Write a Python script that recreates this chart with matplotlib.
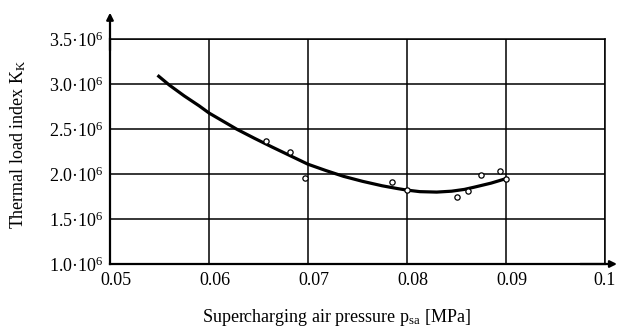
import matplotlib
matplotlib.use("Agg")
import matplotlib.pyplot as plt
import matplotlib.transforms as mtransforms

plt.rcParams['font.family'] = ['Liberation Serif', 'DejaVu Serif']
plt.rcParams['mathtext.fontset'] = 'custom'
plt.rcParams['mathtext.rm'] = 'Liberation Serif'
plt.rcParams['mathtext.it'] = 'Liberation Serif:italic'
plt.rcParams['mathtext.default'] = 'regular'

# measured points (pressure MPa, thermal load index in 1e6)
pts_x = [0.0658, 0.0682, 0.0697, 0.0785, 0.0800, 0.0850, 0.0862, 0.0875, 0.0894, 0.0900]
pts_y = [2.37, 2.25, 1.96, 1.91, 1.82, 1.74, 1.81, 1.99, 2.03, 1.95]

# fitted curve
curve_x = [0.0548, 0.0560, 0.0575, 0.0590, 0.0600, 0.0614, 0.0628, 0.0646, 0.0664, 0.0682,
           0.0700, 0.0718, 0.0736, 0.0755, 0.0775, 0.0790, 0.0800, 0.0813, 0.0830,
           0.0845, 0.0858, 0.0868, 0.0885, 0.0900]
curve_y = [3.10, 2.99, 2.87, 2.76, 2.68, 2.59, 2.50, 2.398, 2.300, 2.205,
           2.11, 2.04, 1.975, 1.92, 1.87, 1.84, 1.822, 1.805, 1.80,
           1.81, 1.83, 1.855, 1.90, 1.95]

x_ticks = [0.05, 0.06, 0.07, 0.08, 0.09, 0.1]
x_labels = ['0.05', '0.06', '0.07', '0.08', '0.09', '0.1']
y_ticks = [1.0, 1.5, 2.0, 2.5, 3.0, 3.5]
y_labels = ['1.0·10$^{6}$', '1.5·10$^{6}$', '2.0·10$^{6}$', '2.5·10$^{6}$',
            '3.0·10$^{6}$', '3.5·10$^{6}$']

fig = plt.figure(figsize=(6.17, 3.31), dpi=100)
fig.patch.set_facecolor('white')
ax = fig.add_axes([110/617, (331-264)/331, (605-110)/617, (264-39.3)/331])

scale = 1e6
ax.plot(curve_x, [v*scale for v in curve_y], color='black', lw=2.3,
        solid_capstyle='butt', solid_joinstyle='round', zorder=3)
ax.plot(pts_x, [v*scale for v in pts_y], linestyle='none', marker='o', ms=3.8,
        mfc='white', mec='black', mew=0.9, zorder=4)

ax.set_xlim(0.05, 0.1)
ax.set_ylim(1.0*scale, 3.5*scale)
ax.set_xticks(x_ticks)
ax.set_xticklabels(x_labels)
ax.set_yticks([v*scale for v in y_ticks])
ax.set_yticklabels(y_labels)
ax.tick_params(length=0, labelsize=13, colors='black')
ax.tick_params(axis='x', pad=6)
ax.tick_params(axis='y', pad=5)
offset = mtransforms.ScaledTranslation(6/100, 0, fig.dpi_scale_trans)
for lab in ax.get_xticklabels()[:-1]:
    lab.set_transform(lab.get_transform() + offset)

ax.grid(True, color='black', lw=1.1)
for s in ['top', 'right']:
    ax.spines[s].set_linewidth(1.1)
for s in ['left', 'bottom']:
    ax.spines[s].set_linewidth(1.6)

# axis arrows
ax.annotate('', xy=(0, 1.0 + (39.3-12.7)/224.7), xytext=(0, 0.95), xycoords='axes fraction',
            arrowprops=dict(arrowstyle='-|>', color='black', lw=1.6, mutation_scale=10,
                            shrinkA=0, shrinkB=0), annotation_clip=False)
ax.annotate('', xy=(1.0 + 12/495, 0), xytext=(0.95, 0), xycoords='axes fraction',
            arrowprops=dict(arrowstyle='-|>', color='black', lw=1.6, mutation_scale=10,
                            shrinkA=0, shrinkB=0), annotation_clip=False)

fig.text(336/617, 1 - 318/331, 'Supercharging air pressure p$_{sa}$ [MPa]',
         ha='center', va='center', fontsize=13)
fig.text(18/617, 1 - 144/331, 'Thermal load index K$_{K}$', rotation=90,
         ha='center', va='center', fontsize=13)

fig.savefig('out.png', dpi=100, facecolor='white')
